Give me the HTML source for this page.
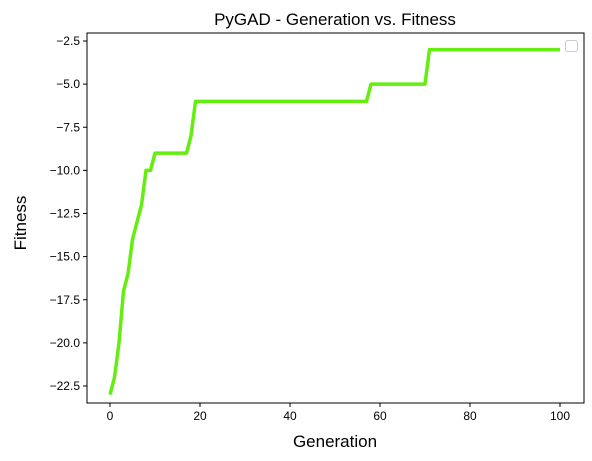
<!DOCTYPE html>
<html><head><meta charset="utf-8"><style>body{margin:0;background:#fff}svg{display:block}text{font-family:"Liberation Sans","DejaVu Sans",sans-serif}</style></head>
<body>
<svg id="c" width="592" height="461"></svg>
<script>
const xTicks=[0,20,40,60,80,100];
const yTicks=[-2.5,-5.0,-7.5,-10.0,-12.5,-15.0,-17.5,-20.0,-22.5];
const yTickLabels=["−2.5","−5.0","−7.5","−10.0","−12.5","−15.0","−17.5","−20.0","−22.5"];
const keyGens=[0,1,2,3,4,5,6,7,8,9,10,17,18,19,57,58,70,71,100];
const keyFit=[-23,-22,-20,-17,-16,-14,-13,-12,-10,-10,-9,-9,-8,-6,-6,-5,-5,-3,-3];
const L=87,R=584,T=33,B=403;
const sx=v=>110+(v-0)*4.5;
const sy=v=>41+(-2.5-v)*17.25;
const svg=document.getElementById('c');const NS='http://www.w3.org/2000/svg';
function mk(t,a,p){const e=document.createElementNS(NS,t);for(const k in a)e.setAttribute(k,a[k]);(p||svg).appendChild(e);return e;}
let d='';keyGens.forEach((g,i)=>{d+=(i?'L':'M')+sx(g)+' '+sy(keyFit[i]);});
const line=mk('path',{d:d,fill:'none',stroke:'#64ee0f','stroke-width':3.5,'stroke-linejoin':'round'});


const frame=mk('rect',{x:L,y:T,width:R-L,height:B-T,fill:'none',stroke:'#000','stroke-width':1});


xTicks.forEach(v=>{const x=sx(v);mk('line',{x1:x,x2:x,y1:B,y2:B+4,stroke:'#000'});
const t=mk('text',{x:x,y:B+17,'font-size':12,'text-anchor':'middle'});t.textContent=v;

});
yTicks.forEach((v,i)=>{const y=sy(v);mk('line',{x1:L-4,x2:L,y1:y,y2:y,stroke:'#000'});
const t=mk('text',{x:L-7,y:y+4,'font-size':12,'text-anchor':'end'});t.textContent=yTickLabels[i];

});
const lg=mk('rect',{x:565.5,y:40.5,width:12,height:11,rx:2,fill:'#fff',stroke:'#ccc'});


const ti=mk('text',{x:335,y:25,'font-size':17,'text-anchor':'middle'});ti.textContent='PyGAD - Generation vs. Fitness';


const xl=mk('text',{x:335,y:447,'font-size':17,'text-anchor':'middle'});xl.textContent='Generation';


const yl=mk('text',{x:26,y:223,'font-size':17,'text-anchor':'middle',transform:'rotate(-90 26 223)'});yl.textContent='Fitness';


</script>
</body></html>
